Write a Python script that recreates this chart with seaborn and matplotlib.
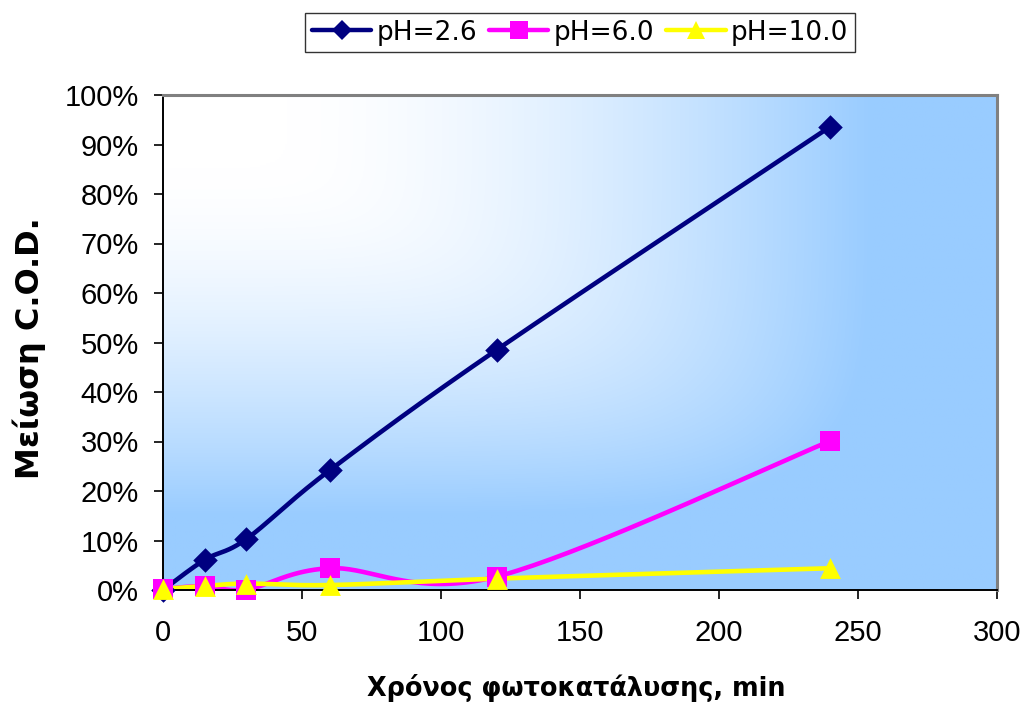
import numpy as np
import pandas as pd
import matplotlib
matplotlib.use("Agg")
import matplotlib.pyplot as plt
from matplotlib.lines import Line2D
from matplotlib.ticker import FuncFormatter
import seaborn as sns

# Photocatalysis time (min) and COD reduction (%) at three pH values
time_min = [0, 15, 30, 60, 120, 240]
cod_ph26 = [0.0, 6.1, 10.3, 24.2, 48.5, 93.6]
cod_ph60 = [0.2, 0.8, 0.1, 4.4, 2.7, 30.1]
cod_ph100 = [0.2, 0.8, 1.3, 1.0, 2.3, 4.4]
series_names = ["pH=2.6", "pH=6.0", "pH=10.0"]

x_ticks = [0, 50, 100, 150, 200, 250, 300]
y_ticks = [0, 10, 20, 30, 40, 50, 60, 70, 80, 90, 100]
x_label = "Χρόνος φωτοκατάλυσης, min"
y_label = "Μείωση C.O.D."

colors = ["#000080", "#FF00FF", "#FFFF00"]
markers = ["D", "s", "^"]
marker_sizes = [12.5, 15, 15]


def smooth_curve(xs, ys, n=40):
    """Bezier smoothing through every point (cardinal spline, tension 1/6)."""
    p = np.column_stack([xs, ys]).astype(float)
    ext = np.vstack([p[0], p, p[-1]])
    out = []
    t = np.linspace(0, 1, n)[:, None]
    for i in range(len(p) - 1):
        p0, p1, p2, p3 = ext[i], ext[i + 1], ext[i + 2], ext[i + 3]
        c1 = p1 + (p2 - p0) / 6.0
        c2 = p2 - (p3 - p1) / 6.0
        seg = ((1 - t) ** 3) * p1 + 3 * ((1 - t) ** 2) * t * c1 \
            + 3 * (1 - t) * t ** 2 * c2 + t ** 3 * p2
        out.append(seg if i == 0 else seg[1:])
    out = np.vstack(out)
    return out[:, 0], out[:, 1]


points = pd.DataFrame({
    "time": time_min * 3,
    "cod": [v / 100 for v in cod_ph26 + cod_ph60 + cod_ph100],
    "series": sum([[s] * len(time_min) for s in series_names], []),
})

curve_rows = []
for name, vals in zip(series_names, [cod_ph26, cod_ph60, cod_ph100]):
    cx, cy = smooth_curve(time_min, [v / 100 for v in vals])
    curve_rows.append(pd.DataFrame({"time": cx, "cod": cy, "series": name}))
curves = pd.concat(curve_rows, ignore_index=True)

sns.set_theme(style="white")
plt.rcParams["font.family"] = ["DejaVu Sans"]
plt.rcParams["text.color"] = "black"
plt.rcParams["xtick.color"] = "black"
plt.rcParams["ytick.color"] = "black"

fig = plt.figure(figsize=(10.24, 7.02), dpi=100)
ax = fig.add_axes([163 / 1024, 1 - 590 / 702, (997 - 163) / 1024, (590 - 95) / 702])

# Corner gradient fill of the plot area: white at upper left to light blue
gu, gv = np.meshgrid(np.linspace(0, 1, 400), np.linspace(0, 1, 300))
dist = (gu ** 6 + gv ** 6) ** (1 / 6)
tt = np.clip((dist - 0.15) / 0.7, 0, 1) ** 1.6
white = np.array([1.0, 1.0, 1.0])
blue = np.array([0x99, 0xCC, 0xFF]) / 255
img = white[None, None, :] * (1 - tt[..., None]) + blue[None, None, :] * tt[..., None]
ax.imshow(img, extent=[0, 300, 0, 1], aspect="auto", zorder=0, origin="upper")

palette = dict(zip(series_names, colors))
for name in series_names:
    sub = curves[curves["series"] == name]
    sns.lineplot(data=sub, x="time", y="cod", color=palette[name], lw=3.3,
                 sort=False, estimator=None, ax=ax, zorder=2, legend=False)
for name, ms, mk in zip(series_names, marker_sizes, markers):
    sub = points[points["series"] == name]
    sns.scatterplot(data=sub, x="time", y="cod", color=palette[name], marker=mk,
                    s=ms ** 2, linewidth=0, ax=ax, zorder=3, legend=False,
                    clip_on=False)

ax.set_xlim(0, 300)
ax.set_ylim(0, 1)
ax.set_xticks(x_ticks)
ax.set_yticks([v / 100 for v in y_ticks])
ax.yaxis.set_major_formatter(FuncFormatter(lambda v, _: f"{v * 100:.0f}%"))
ax.tick_params(axis="both", which="major", direction="out", length=6.5, width=1.2,
               color="black", labelcolor="black", labelsize=21,
               bottom=True, left=True)
ax.tick_params(axis="x", pad=14.5)
ax.tick_params(axis="y", pad=11)
for lab in ax.get_xticklabels() + ax.get_yticklabels():
    lab.set_fontfamily("Liberation Sans")

for side in ["left", "bottom"]:
    ax.spines[side].set_color("black")
    ax.spines[side].set_linewidth(1.4)
for side in ["top", "right"]:
    ax.spines[side].set_color("#808080")
    ax.spines[side].set_linewidth(2.2)
    ax.spines[side].set_visible(True)

ax.set_xlabel("")
ax.set_ylabel("")
fig.text(576 / 1024, 1 - 688 / 702, x_label, ha="center", va="center",
         fontsize=18.4, fontweight="bold")
fig.text(29 / 1024, 1 - 348 / 702, y_label, ha="center", va="center",
         fontsize=23, fontweight="bold", rotation=90)

handles = [Line2D([0], [0], color=c, lw=3.2, marker=m, markersize=s * 0.85,
                  markeredgewidth=0)
           for c, m, s in zip(colors, markers, marker_sizes)]
leg = fig.legend(handles, series_names, loc="center", ncol=3,
                 bbox_to_anchor=(580 / 1024, 1 - 32.5 / 702), fontsize=19,
                 frameon=True, fancybox=False, edgecolor="black",
                 handlelength=2.25, handletextpad=0.2, columnspacing=0.45,
                 borderpad=0.25, borderaxespad=0)
leg.get_frame().set_linewidth(1.0)

fig.savefig("out.png", dpi=100, facecolor="white")
